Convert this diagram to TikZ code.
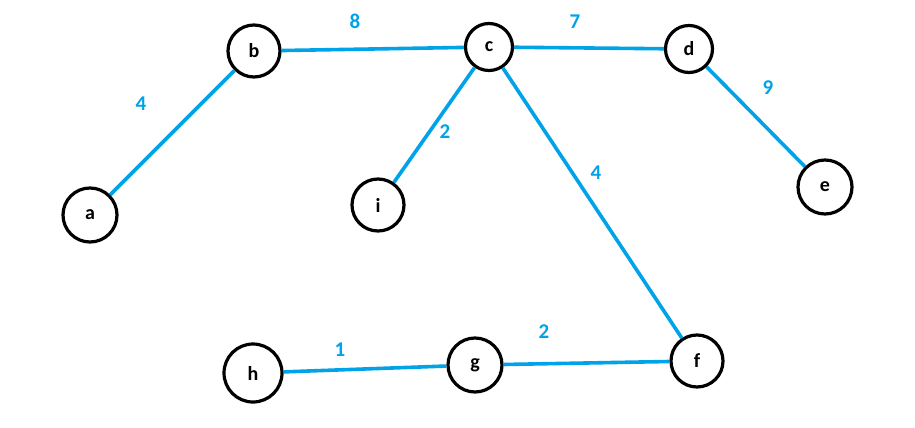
\documentclass[tikz,border=0pt]{standalone}
\usepackage{fontspec}
\setmainfont{Carlito}
\definecolor{paintblue}{RGB}{0,162,232}
\begin{document}
\begin{tikzpicture}[x=1pt,y=-1pt,
  vert/.style={circle,draw=black,line width=3.2pt,minimum size=#1,inner sep=0pt,font=\fontsize{20}{20}\selectfont\bfseries},
  vert/.default=52pt,
  edge/.style={draw=paintblue,line width=3.6pt},
  wlab/.style={text=paintblue,font=\fontsize{21}{21}\selectfont\bfseries,inner sep=0pt}]
\useasboundingbox (0,0) rectangle (915,428);
\node[vert=54pt] (a) at (90,215) {a};
\node[vert=52pt] (b) at (254,51) {b};
\node[vert=47pt] (c) at (489,47) {c};
\node[vert=47pt] (d) at (689,49) {d};
\node[vert=54pt] (e) at (825,187) {e};
\node[vert=52pt] (i) at (378,205) {i};
\node[vert=52pt] (f) at (697,361) {f};
\node[vert=54pt] (g) at (475,365) {g};
\node[vert=58pt] (h) at (253,373) {h};
\draw[edge] (a) -- (b);
\draw[edge] (b) -- (c);
\draw[edge] (c) -- (d);
\draw[edge] (d) -- (e);
\draw[edge] (c) -- (i);
\draw[edge] (c) -- (f);
\draw[edge] (h) -- (g);
\draw[edge] (g) -- (f);
\node[wlab] (lab) at (141,104) {4};
\node[wlab] (lbc) at (355,21) {8};
\node[wlab] (lcd) at (575,22) {7};
\node[wlab] (lde) at (768,88) {9};
\node[wlab] (lci) at (445,132) {2};
\node[wlab] (lcf) at (596,173) {4};
\node[wlab] (lhg) at (340,350) {1};
\node[wlab] (lgf) at (544,332) {2};
\end{tikzpicture}
\end{document}
